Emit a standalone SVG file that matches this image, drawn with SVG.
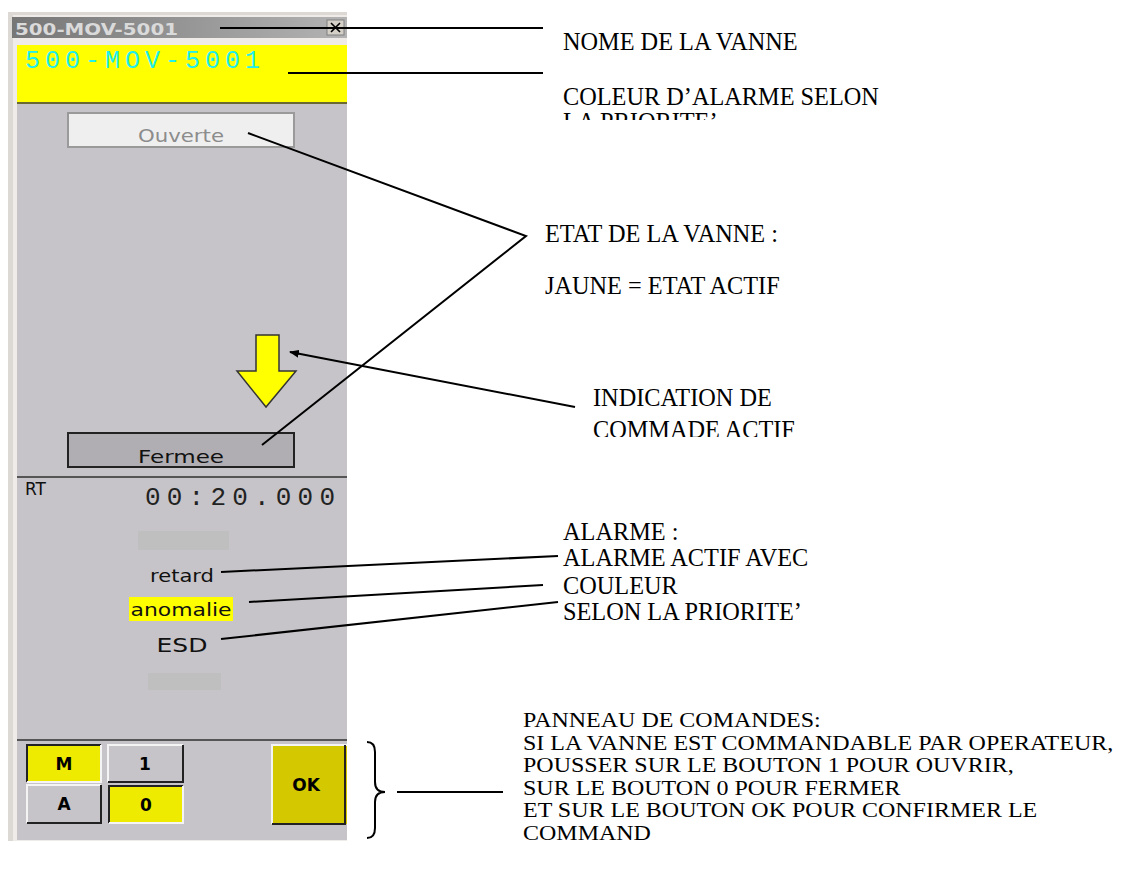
<svg xmlns="http://www.w3.org/2000/svg" width="1125" height="869" viewBox="0 0 1125 869">
<defs>
<style>
.note{font-family:"Liberation Serif","Times New Roman",serif;font-size:24.3px;fill:#000}
.note2{font-family:"Liberation Serif","Times New Roman",serif;font-size:24px;fill:#000}
.ui{font-family:"DejaVu Sans","Liberation Sans",sans-serif}
.mono{font-family:"Liberation Mono","DejaVu Sans Mono",monospace}
.btn{font-family:"DejaVu Sans","Liberation Sans",sans-serif;font-weight:bold;font-size:17px;fill:#000;text-anchor:middle}
.conn{stroke:#000;stroke-width:2;fill:none}
</style>
<linearGradient id="tb" x1="0" y1="0" x2="1" y2="0">
<stop offset="0" stop-color="#777677"/>
<stop offset="1" stop-color="#b4b3b4"/>
</linearGradient>
<clipPath id="c1"><rect x="540" y="0" width="400" height="120"/></clipPath>
<clipPath id="c2"><rect x="580" y="380" width="300" height="57"/></clipPath>
<marker id="ah" markerWidth="10" markerHeight="8" refX="9" refY="4" orient="auto" markerUnits="userSpaceOnUse" viewBox="0 0 10 8">
<path d="M0,0 L10,4 L0,8 z" fill="#000"/>
</marker>
</defs>
<rect width="1125" height="869" fill="#fff"/>

<g id="window">
<rect x="8" y="12" width="339" height="829" fill="#dcd8d4"/>
<rect x="13" y="15" width="334" height="826" fill="#eeebe8"/>
<rect x="17" y="104" width="330" height="736" fill="#c6c4c8"/>
</g>

<g id="titlebar">
<rect x="12" y="17" width="335" height="21" fill="url(#tb)"/>
<text class="ui" x="15" y="35" font-size="15" font-weight="bold" fill="#dadada" textLength="163" lengthAdjust="spacingAndGlyphs">500-MOV-5001</text>
<rect x="327" y="20" width="17" height="15" fill="#d4d0c8" stroke="#808080" stroke-width="1"/>
<path d="M331,23 L340,32 M340,23 L331,32" stroke="#000" stroke-width="1.6"/>
</g>

<g id="name-area">
<rect x="17" y="45" width="330" height="58" fill="#ffff00"/>
<rect x="17" y="102" width="330" height="2" fill="#6a6a30"/>
<text class="mono" x="25" y="68" font-size="25" fill="#22eeee" textLength="235" lengthAdjust="spacing">500-MOV-5001</text>
</g>

<g id="ouverte">
<rect x="68" y="113" width="226" height="34" fill="#efefef" stroke="#9a9a9a" stroke-width="2"/>
<text class="ui" x="181" y="142" font-size="18" fill="#8c8c8c" text-anchor="middle" textLength="86" lengthAdjust="spacingAndGlyphs">Ouverte</text>
</g>

<g id="arrow">
<path d="M256,335 L279,335 L279,371 L296,371 L266,407 L237,371 L256,371 Z" fill="#ffff00" stroke="#333" stroke-width="1.5"/>
</g>

<g id="fermee">
<rect x="68" y="433" width="226" height="34" fill="#b0aeb2" stroke="#222" stroke-width="2"/>
<text class="ui" x="181" y="463" font-size="18" fill="#111" text-anchor="middle" textLength="86" lengthAdjust="spacingAndGlyphs">Fermee</text>
</g>

<g id="rt">
<rect x="17" y="476" width="330" height="2" fill="#555"/>
<text class="ui" x="25" y="495" font-size="17" fill="#111">RT</text>
<text class="mono" x="145" y="505" font-size="26" fill="#222" textLength="190" lengthAdjust="spacing">00:20.000</text>
</g>

<g id="alarms">
<rect x="138" y="531" width="91" height="19" fill="#bfbfbf"/>
<text class="ui" x="182" y="582" font-size="18" fill="#111" text-anchor="middle" textLength="64" lengthAdjust="spacingAndGlyphs">retard</text>
<rect x="129" y="597" width="104" height="24" fill="#ffff00"/>
<text class="ui" x="181" y="616" font-size="18" fill="#111" text-anchor="middle" textLength="101" lengthAdjust="spacingAndGlyphs">anomalie</text>
<text class="ui" x="182" y="652" font-size="19" fill="#111" text-anchor="middle" textLength="51" lengthAdjust="spacingAndGlyphs">ESD</text>
<rect x="148" y="673" width="73" height="17" fill="#bfbfbf"/>
</g>

<g id="commands">
<rect x="17" y="739" width="330" height="2" fill="#555"/>
<g id="btn-M">
<rect x="27" y="745" width="74" height="37" fill="#eeea00"/>
<path d="M27,782 L27,745 L101,745" stroke="#222" stroke-width="2" fill="none"/>
<path d="M27,782 L101,782 L101,745" stroke="#f4f4f4" stroke-width="2" fill="none"/>
<text class="btn" x="64" y="770">M</text>
</g>
<g id="btn-1">
<rect x="108" y="745" width="75" height="37" fill="#c6c4c8"/>
<path d="M108,782 L108,745 L183,745" stroke="#f4f4f4" stroke-width="2" fill="none"/>
<path d="M108,782 L183,782 L183,745" stroke="#222" stroke-width="2" fill="none"/>
<text class="btn" x="145" y="770">1</text>
</g>
<g id="btn-A">
<rect x="27" y="785" width="74" height="38" fill="#c6c4c8"/>
<path d="M27,823 L27,785 L101,785" stroke="#f4f4f4" stroke-width="2" fill="none"/>
<path d="M27,823 L101,823 L101,785" stroke="#222" stroke-width="2" fill="none"/>
<text class="btn" x="64" y="810">A</text>
</g>
<g id="btn-0">
<rect x="109" y="786" width="74" height="37" fill="#eeea00"/>
<path d="M109,823 L109,786 L183,786" stroke="#222" stroke-width="2" fill="none"/>
<path d="M109,823 L183,823 L183,786" stroke="#f4f4f4" stroke-width="2" fill="none"/>
<text class="btn" x="146" y="811">0</text>
</g>
<g id="btn-OK">
<rect x="272" y="745" width="75" height="79" fill="#d4c800"/>
<path d="M272,824 L272,745 L347,745" stroke="#f4f4f4" stroke-width="2" fill="none"/>
<path d="M272,824 L345,824 L345,745" stroke="#222" stroke-width="2" fill="none"/>
<text class="btn" x="306" y="791">OK</text>
</g>
</g>

<g id="connectors">
<line class="conn" x1="220" y1="28" x2="543" y2="28"/>
<line class="conn" x1="288" y1="73" x2="543" y2="73"/>
<polyline class="conn" points="248,133 526,236 262,445" stroke-width="1.5"/>
<line class="conn" x1="575" y1="407" x2="290" y2="352" marker-end="url(#ah)"/>
<line class="conn" x1="221" y1="572" x2="558" y2="556"/>
<line class="conn" x1="249" y1="602" x2="543" y2="585"/>
<line class="conn" x1="221" y1="639" x2="558" y2="602"/>
<path class="conn" d="M367,742 Q375,742 375,752 L375,782 Q375,792 385,792 Q375,792 375,802 L375,828 Q375,838 367,838" stroke-width="1.6"/>
<line class="conn" x1="397" y1="792" x2="503" y2="792"/>
</g>

<g id="label-nom">
<text class="note" x="563" y="50">NOME DE LA VANNE</text>
</g>
<g id="label-couleur" clip-path="url(#c1)">
<text class="note" x="563" y="105">COLEUR D’ALARME SELON</text>
<text class="note" x="563" y="130">LA PRIORITE’</text>
</g>
<g id="label-etat">
<text class="note" x="545" y="242">ETAT DE LA VANNE :</text>
<text class="note" x="545" y="294">JAUNE = ETAT ACTIF</text>
</g>
<g id="label-indication">
<text class="note" x="593" y="406">INDICATION DE</text>
<text class="note" x="593" y="438" clip-path="url(#c2)">COMMADE ACTIF</text>
</g>
<g id="label-alarme">
<text class="note" x="563" y="540">ALARME :</text>
<text class="note" x="563" y="566">ALARME ACTIF AVEC</text>
<text class="note" x="563" y="594">COULEUR</text>
<text class="note" x="563" y="620">SELON LA PRIORITE’</text>
</g>
<g id="label-panneau">
<text class="note2" transform="translate(523,727) scale(1,0.88)">PANNEAU DE COMANDES:</text>
<text class="note2" transform="translate(523,749.5) scale(1,0.88)">SI LA VANNE EST COMMANDABLE PAR OPERATEUR,</text>
<text class="note2" transform="translate(523,772) scale(1,0.88)">POUSSER SUR LE BOUTON 1 POUR OUVRIR,</text>
<text class="note2" transform="translate(523,794.5) scale(1,0.88)">SUR LE BOUTON 0 POUR FERMER</text>
<text class="note2" transform="translate(523,817) scale(1,0.88)">ET SUR LE BOUTON OK POUR CONFIRMER LE</text>
<text class="note2" transform="translate(523,839.5) scale(1,0.88)">COMMAND</text>
</g>
</svg>
